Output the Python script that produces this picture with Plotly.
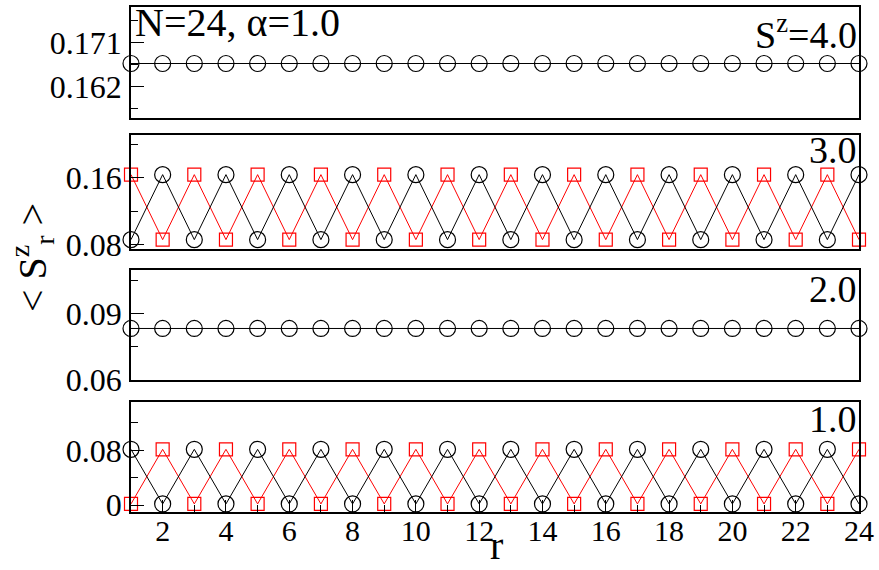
import plotly.graph_objects as go
from plotly.subplots import make_subplots

# site index
r = list(range(1, 25))

# <S^z_r> profiles for each magnetisation sector (N=24, alpha=1.0)
sz4_black = [0.1667] * 24
sz3_black = [0.086, 0.164] * 12
sz3_red = [0.164, 0.086] * 12
sz2_black = [0.0833] * 24
sz1_black = [0.0815, 0.0018] * 12
sz1_red = [0.0018, 0.0815] * 12

sector_labels = ["S<sup>z</sup>=4.0", "3.0", "2.0", "1.0"]

FONT = "Liberation Serif"
BLACK = "#000000"
RED = "#ff0000"

fig = make_subplots(rows=4, cols=1, shared_xaxes=True)


def circles(y):
    return go.Scatter(
        x=r, y=y, mode="lines+markers", cliponaxis=False, showlegend=False,
        line=dict(color=BLACK, width=1),
        marker=dict(symbol="circle-open", size=16, color=BLACK, line=dict(width=1.2)),
    )


def squares(y):
    return go.Scatter(
        x=r, y=y, mode="lines+markers", cliponaxis=False, showlegend=False,
        line=dict(color=RED, width=1),
        marker=dict(symbol="square-open", size=13, color=RED, line=dict(width=1.2)),
    )


fig.add_trace(circles(sz4_black), row=1, col=1)
fig.add_trace(squares(sz3_red), row=2, col=1)
fig.add_trace(circles(sz3_black), row=2, col=1)
fig.add_trace(circles(sz2_black), row=3, col=1)
fig.add_trace(squares(sz1_red), row=4, col=1)
fig.add_trace(circles(sz1_black), row=4, col=1)

domains = [[0.7811, 1.0], [0.5207, 0.7456], [0.2623, 0.4793], [0.0, 0.2170]]
yranges = [[0.1557, 0.1782], [0.0747, 0.211], [0.06, 0.11], [-0.01, 0.15]]
ydticks = [0.009, 0.08, 0.03, 0.08]
ytick0 = [0.162, 0.0, 0.0, 0.0]

frame = dict(showline=True, linecolor=BLACK, linewidth=1.5, mirror=True,
             showgrid=False, zeroline=False)

for i in range(4):
    ax = "" if i == 0 else str(i + 1)
    fig.layout["yaxis" + ax].update(
        domain=domains[i], range=yranges[i], tickmode="linear",
        tick0=ytick0[i], dtick=ydticks[i], ticks="inside", ticklen=13,
        tickwidth=1.2, tickcolor=BLACK,
        minor=dict(ticks="inside", ticklen=7, tickwidth=1.2, tickcolor=BLACK,
                   tick0=ytick0[i], dtick=ydticks[i] / 2),
        **frame,
    )
    xa = dict(range=[1, 24], **frame)
    if i == 3:
        xa.update(tickmode="linear", tick0=2, dtick=2, ticks="inside",
                  ticklen=12, tickwidth=1.2, tickcolor=BLACK,
                  minor=dict(ticks="inside", ticklen=7, tickwidth=1.2,
                             tickcolor=BLACK, tick0=1, dtick=1),
                  showticklabels=True, ticklabelstandoff=-9)
    else:
        xa.update(ticks="", showticklabels=False)
    fig.layout["xaxis" + ax].update(**xa)

# tick label fonts for every axis
fig.update_yaxes(tickfont=dict(family=FONT, size=32, color=BLACK),
                 ticklabelstandoff=1)
fig.update_xaxes(tickfont=dict(family=FONT, size=30, color=BLACK))

annotations = [
    dict(text="N=24, α=1.0", x=0.003, y=0.970, xanchor="left", yanchor="middle", size=40),
    dict(text=sector_labels[0], x=0.9995, y=0.950, xanchor="right", yanchor="middle", size=38),
    dict(text=sector_labels[1], x=0.9995, y=0.716, xanchor="right", yanchor="middle", size=38),
    dict(text=sector_labels[2], x=0.9995, y=0.441, xanchor="right", yanchor="middle", size=38),
    dict(text=sector_labels[3], x=0.9995, y=0.1845, xanchor="right", yanchor="middle", size=38),
    dict(text="r", x=0.502, y=-0.1144, xanchor="center", yanchor="bottom", size=40),
    dict(text="&lt; S<sup>z</sup><sub>r</sub> &gt;", x=-0.136, y=0.505,
         xanchor="center", yanchor="middle", textangle=-90, size=40),
]
for a in annotations:
    size = a.pop("size")
    fig.add_annotation(xref="paper", yref="paper", showarrow=False,
                       font=dict(family=FONT, size=size, color=BLACK), **a)

fig.update_layout(
    width=879, height=570,
    margin=dict(l=131, r=18, t=5, b=58),
    paper_bgcolor="white", plot_bgcolor="white",
    showlegend=False,
    font=dict(family=FONT, color=BLACK),
)

fig.write_html("out.html")
